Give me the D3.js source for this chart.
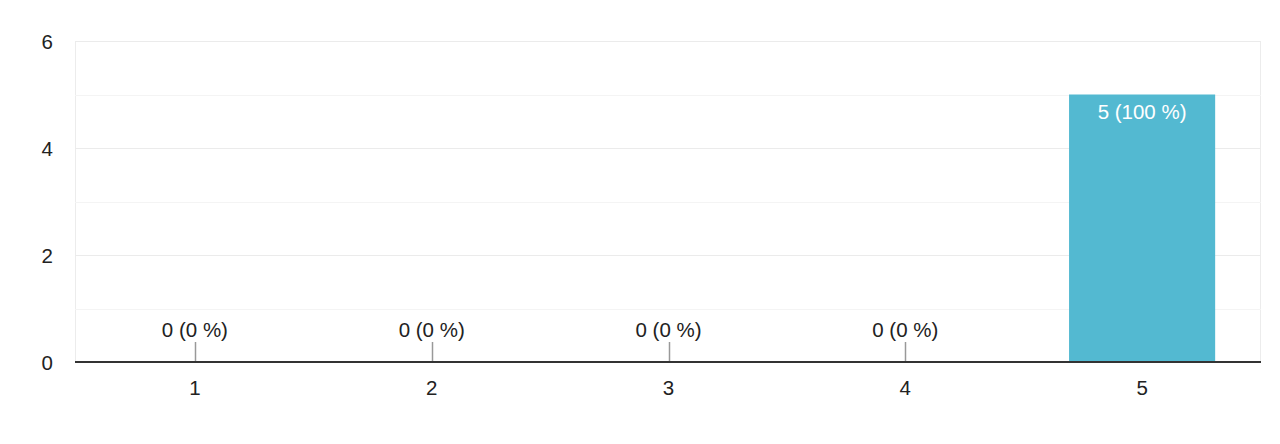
<!DOCTYPE html>
<html><head><meta charset="utf-8">
<script src="https://cdn.jsdelivr.net/npm/d3@7"></script>
<style>body{margin:0;background:#fff}svg{display:block;font-family:"Liberation Sans",Arial,sans-serif}</style>
</head><body><svg id="c" width="1280" height="444"></svg>
<script>
const categories = ["1","2","3","4","5"];
const counts = [0,0,0,0,5];
const percents = ["0 %","0 %","0 %","0 %","100 %"];
const yTicks = [0,2,4,6];
const gridValues = [1,2,3,4,5,6];

const svg = d3.select("#c");
const mLeft = 75, mRight = 1261, mTop = 41, mBottom = 362;
const fs = 20.5;
const x = d3.scaleBand().domain(categories).range([76.5,1260.5]).paddingInner(0.383).paddingOuter(0.1915);
const y = d3.scaleLinear().domain([0,6]).range([mBottom,mTop]);

// frame lines
svg.append("line").attr("x1",mLeft+0.5).attr("x2",mLeft+0.5).attr("y1",mTop).attr("y2",mBottom).attr("stroke","#ececec");
svg.append("line").attr("x1",mRight-0.5).attr("x2",mRight-0.5).attr("y1",mTop).attr("y2",mBottom).attr("stroke","#ececec");
svg.append("g").selectAll("line").data(gridValues).join("line")
  .attr("x1",mLeft).attr("x2",mRight)
  .attr("y1",d=>Math.round(y(d))+0.5).attr("y2",d=>Math.round(y(d))+0.5)
  .attr("stroke",d=>d%2===0?"#ebebeb":"#f4f4f4");

// y labels
svg.append("g").selectAll("text").data(yTicks).join("text")
  .attr("x",53).attr("y",d=>y(d)+7.5).attr("text-anchor","end")
  .attr("font-size",fs).attr("fill","#222").text(d=>d);

const data = categories.map((c,i)=>({c,v:counts[i],p:percents[i]}));
// bars
svg.append("g").selectAll("rect").data(data.filter(d=>d.v>0)).join("rect")
  .attr("x",d=>x(d.c)).attr("width",x.bandwidth())
  .attr("y",d=>y(d.v)).attr("height",d=>y(0)-y(d.v)).attr("fill","#53b9d1");
// zero stubs
svg.append("g").selectAll("line").data(data.filter(d=>d.v===0)).join("line")
  .attr("x1",d=>Math.round(x(d.c)+x.bandwidth()/2)+0.5).attr("x2",d=>Math.round(x(d.c)+x.bandwidth()/2)+0.5)
  .attr("y1",y(0)-20).attr("y2",y(0)).attr("stroke","#999").attr("stroke-width",1.5);
// value labels
svg.append("g").selectAll("text").data(data).join("text")
  .attr("x",d=>x(d.c)+x.bandwidth()/2)
  .attr("y",d=>d.v>0? y(d.v)+24 : y(0)-25)
  .attr("text-anchor","middle").attr("font-size",fs)
  .attr("fill",d=>d.v>0?"#fff":"#222")
  .text(d=>`${d.v} (${d.p})`);
// baseline
svg.append("line").attr("x1",mLeft).attr("x2",mRight).attr("y1",y(0)).attr("y2",y(0)).attr("stroke","#333").attr("stroke-width",2);
// x labels
svg.append("g").selectAll("text").data(categories).join("text")
  .attr("x",d=>x(d)+x.bandwidth()/2).attr("y",394.5)
  .attr("text-anchor","middle").attr("font-size",fs).attr("fill","#222").text(d=>d);
</script></body></html>
